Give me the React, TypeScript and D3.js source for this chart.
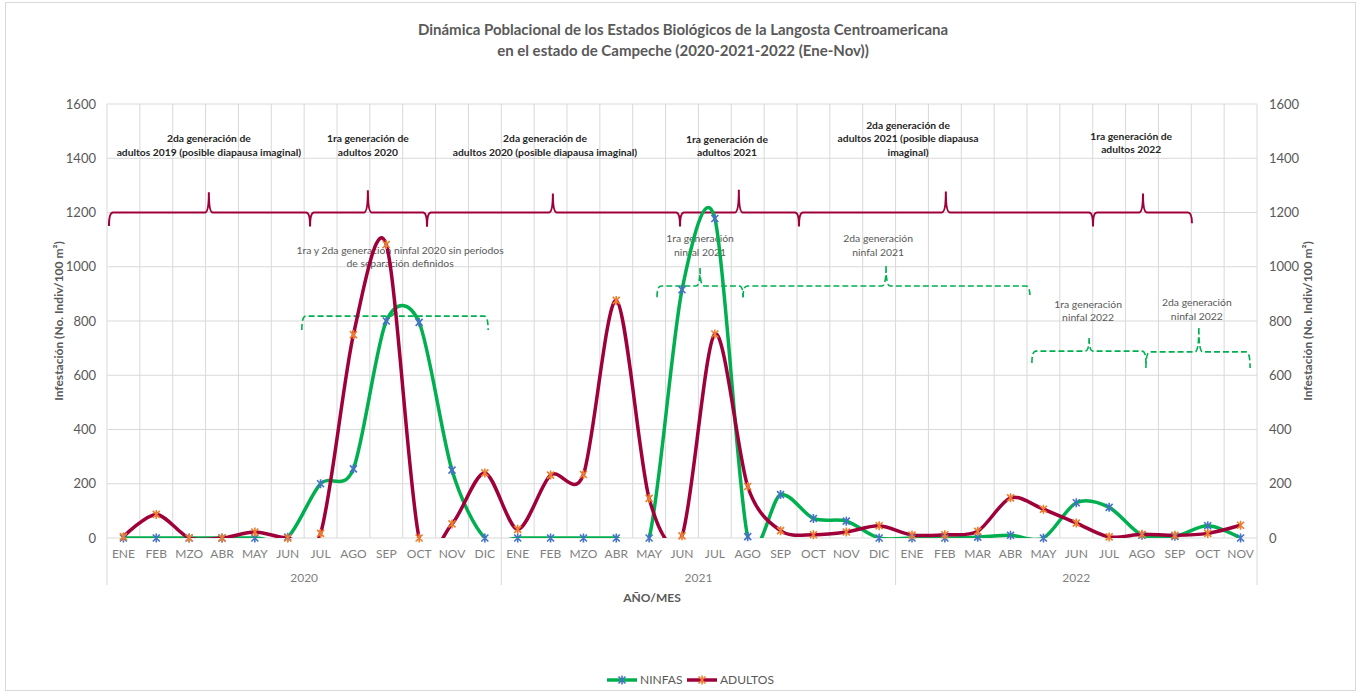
import React from 'react';
import * as d3 from 'd3';

// ---- Data (Jan 2020 - Nov 2022)
const years = ['2020', '2021', '2022'];
const months2020 = ['ENE', 'FEB', 'MZO', 'ABR', 'MAY', 'JUN', 'JUL', 'AGO', 'SEP', 'OCT', 'NOV', 'DIC'];
const months2021 = ['ENE', 'FEB', 'MZO', 'ABR', 'MAY', 'JUN', 'JUL', 'AGO', 'SEP', 'OCT', 'NOV', 'DIC'];
const months2022 = ['ENE', 'FEB', 'MAR', 'ABR', 'MAY', 'JUN', 'JUL', 'AGO', 'SEP', 'OCT', 'NOV'];

const ninfas = [
    0, 0, 0, 0, 0, 3, 200, 255, 800, 795, 250, 0,
    0, 0, 0, 0, 0, 915, 1178, 5, 160, 72, 62, 0,
    0, 0, 3, 10, 0, 130, 113, 10, 6, 45, 0
];
const adultos = [
    5, 87, 0, 0, 22, 0, 17, 750, 1082, 0, 52, 240,
    32, 232, 234, 876, 146, 8, 752, 190, 27, 12, 22, 45,
    11, 12, 25, 148, 106, 55, 4, 14, 10, 17, 47
];

const yTicks = [0, 200, 400, 600, 800, 1000, 1200, 1400, 1600];

// brace annotations: category positions (from, tip, to) and values (line, ends, tip)
const adultBraces = [
    { from: 0.06, tip: 3.1, to: 6.18, value: 1200, end: 1150, top: 1275 },
    { from: 6.18, tip: 7.94, to: 9.74, value: 1200, end: 1148, top: 1282 },
    { from: 9.74, tip: 13.57, to: 17.44, value: 1200, end: 1148, top: 1270 },
    { from: 17.44, tip: 19.23, to: 21.06, value: 1200, end: 1150, top: 1284 },
    { from: 21.06, tip: 25.53, to: 30.01, value: 1200, end: 1148, top: 1277 },
    { from: 30.01, tip: 31.53, to: 33.02, value: 1200, end: 1160, top: 1270 }
];
const ninfaBraces = [
    { from: 5.93, tip: 8.77, to: 11.6, value: 818, end: 767, top: 881 },
    { from: 16.74, tip: 18.05, to: 19.36, value: 929, end: 888, top: 995 },
    { from: 19.36, tip: 23.71, to: 28.09, value: 929, end: 888, top: 1003 },
    { from: 28.15, tip: 29.89, to: 31.62, value: 689, end: 645, top: 737 },
    { from: 31.62, tip: 33.23, to: 34.79, value: 686, end: 627, top: 774 }
];

const adultLabels = [
    { at: 3.1, value: 1410, lines: ['2da generación de', 'adultos 2019 (posible diapausa imaginal)'] },
    { at: 7.94, value: 1410, lines: ['1ra generación de', 'adultos 2020'] },
    { at: 13.33, value: 1410, lines: ['2da generación de', 'adultos 2020 (posible diapausa imaginal)'] },
    { at: 18.87, value: 1408, lines: ['1ra generación de', 'adultos 2021'] },
    { at: 24.38, value: 1410, lines: ['2da generación de', 'adultos 2021 (posible diapausa', 'imaginal)'] },
    { at: 31.17, value: 1418, lines: ['1ra generación de', 'adultos 2022'] }
];
const ninfaLabels = [
    { at: 8.92, value: 999, lines: ['1ra y 2da generación ninfal 2020 sin períodos', 'de separación definidos'] },
    { at: 18.05, value: 1040, lines: ['1ra generación', 'ninfal 2021'] },
    { at: 23.47, value: 1040, lines: ['2da generación', 'ninfal 2021'] },
    { at: 29.86, value: 800, lines: ['1ra generación', 'ninfal 2022'] },
    { at: 33.17, value: 804, lines: ['2da generación', 'ninfal 2022'] }
];

const FONT = 'Lato, "Liberation Sans", sans-serif';
const GREEN = '#00B050';
const RED = '#A0003A';
const BLUE = '#4472C4';
const ORANGE = '#ED7D31';
const GRID = '#d9d9d9';
const TXT = '#595959';

const W = 1361;
const H = 692;
const plot = { left: 107, right: 1257, top: 104, bottom: 538 };

const star = 'M-3.5,-3.5L3.5,3.5M-3.5,3.5L3.5,-3.5M0,-4.5L0,4.5';

export default function App() {
    const categories = [
        ...months2020.map(m => ({ m, y: '2020' })),
        ...months2021.map(m => ({ m, y: '2021' })),
        ...months2022.map(m => ({ m, y: '2022' }))
    ];
    const n = categories.length;

    const xc = d3.scaleLinear().domain([0, n]).range([plot.left, plot.right]);
    const y = d3.scaleLinear().domain([0, 1600]).range([plot.bottom, plot.top]);
    const cx = (i: number) => xc(i + 0.5);

    const line = d3.line<number>()
        .x((_, i) => cx(i))
        .y(d => y(d))
        .curve(d3.curveCardinal.tension(0.12));

    // year groups
    const groups: { year: string; start: number; end: number }[] = [];
    years.forEach(yr => {
        const idx = categories.map((c, i) => (c.y === yr ? i : -1)).filter(i => i >= 0);
        groups.push({ year: yr, start: idx[0], end: idx[idx.length - 1] + 1 });
    });

    const bracePath = (b: any, r: number) => {
        const x1 = xc(b.from), x2 = xc(b.to), xt = xc(b.tip);
        const y0 = y(b.value), ye = y(b.end), yt = y(b.top);
        return `M${x1},${ye} Q${x1},${y0} ${x1 + r},${y0} L${xt - r},${y0} Q${xt},${y0} ${xt},${yt}` +
            ` M${xt},${yt} Q${xt},${y0} ${xt + r},${y0} L${x2 - r},${y0} Q${x2},${y0} ${x2},${ye}`;
    };

    return (
        <div style={{ position: 'absolute', left: 0, top: 0 }}>
            <svg width={W} height={H} style={{ display: 'block', background: '#fff' }} fontFamily={FONT}>
                <defs>
                    <clipPath id="plotClip">
                        <rect x={plot.left} y={plot.top} width={plot.right - plot.left} height={plot.bottom - plot.top} />
                    </clipPath>
                </defs>
                <rect x={5.5} y={2.5} width={W - 11} height={H - 4} fill="none" stroke={GRID} />

                {/* Title */}
                <text x={683} y={35} textAnchor="middle" fontSize={15} fontWeight={700} fill={TXT}>
                    Dinámica Poblacional de los Estados Biológicos de la Langosta Centroamericana
                </text>
                <text x={683} y={56} textAnchor="middle" fontSize={15} fontWeight={700} fill={TXT}>
                    en el estado de Campeche (2020-2021-2022 (Ene-Nov))
                </text>

                {/* Grid */}
                {yTicks.map(t => (
                    <line key={'h' + t} x1={plot.left} x2={plot.right} y1={y(t)} y2={y(t)} stroke={GRID} />
                ))}
                {d3.range(n + 1).map(i => (
                    <line key={'v' + i} x1={xc(i)} x2={xc(i)} y1={plot.top} y2={plot.bottom} stroke={GRID} />
                ))}
                {[0, ...groups.map(g => g.end)].map(i => (
                    <line key={'s' + i} x1={xc(i)} x2={xc(i)} y1={plot.bottom} y2={585} stroke={GRID} />
                ))}

                {/* Y axes */}
                {yTicks.map(t => (
                    <g key={'yl' + t} fontSize={13} fill={TXT}>
                        <text x={96} y={y(t)} dy="0.35em" textAnchor="end">{t}</text>
                        <text x={1269} y={y(t)} dy="0.35em" textAnchor="start">{t}</text>
                    </g>
                ))}
                <text transform={`translate(63,${(plot.top + plot.bottom) / 2}) rotate(-90)`} textAnchor="middle"
                    fontSize={12} fontWeight={700} fill={TXT}>
                    Infestación (No. Indiv/100 m²)
                </text>
                <text transform={`translate(1312,${(plot.top + plot.bottom) / 2}) rotate(-90)`} textAnchor="middle"
                    fontSize={12} fontWeight={700} fill={TXT}>
                    Infestación (No. Indiv/100 m²)
                </text>

                {/* X axis labels */}
                {categories.map((c, i) => (
                    <text key={'m' + i} x={cx(i)} y={558} textAnchor="middle" fontSize={12} fill="#7f7f7f">{c.m}</text>
                ))}
                {groups.map(g => (
                    <text key={g.year} x={xc((g.start + g.end) / 2)} y={582} textAnchor="middle" fontSize={12} fill="#7f7f7f">{g.year}</text>
                ))}
                <text x={652} y={602} textAnchor="middle" fontSize={12} fontWeight={700} fill={TXT}>AÑO/MES</text>

                {/* Annotations: adults */}
                {adultBraces.map((b, i) => (
                    <path key={'ab' + i} d={bracePath(b, 4)} fill="none" stroke={RED} strokeWidth={2} />
                ))}
                {adultLabels.map((l, i) => (
                    <text key={'al' + i} x={xc(l.at)} y={y(l.value)} textAnchor="middle" fontSize={10.3} fontWeight={700} fill="#262626">
                        {l.lines.map((s, j) => (
                            <tspan key={j} x={xc(l.at)} dy={j === 0 ? -(l.lines.length - 1) * 13.5 : 13.5}>{s}</tspan>
                        ))}
                    </text>
                ))}

                {/* Annotations: nymphs */}
                {ninfaBraces.map((b, i) => (
                    <path key={'nb' + i} d={bracePath(b, 4)} fill="none" stroke={GREEN} strokeWidth={1.6} strokeDasharray="6,3" />
                ))}
                {ninfaLabels.map((l, i) => (
                    <text key={'nl' + i} x={xc(l.at)} y={y(l.value)} textAnchor="middle" fontSize={10.4} fill={TXT}>
                        {l.lines.map((s, j) => (
                            <tspan key={j} x={xc(l.at)} dy={j === 0 ? -(l.lines.length - 1) * 13.5 : 13.5}>{s}</tspan>
                        ))}
                    </text>
                ))}

                {/* Series */}
                <g clipPath="url(#plotClip)">
                    <path d={line(ninfas) || ''} fill="none" stroke={GREEN} strokeWidth={3.5} />
                    <path d={line(adultos) || ''} fill="none" stroke={RED} strokeWidth={3.5} />
                </g>
                {ninfas.map((v, i) => (
                    <path key={'nm' + i} d={star} transform={`translate(${cx(i)},${y(v)})`} stroke={BLUE} strokeWidth={1.6} fill="none" />
                ))}
                {adultos.map((v, i) => (
                    <path key={'am' + i} d={star} transform={`translate(${cx(i)},${y(v)})`} stroke={ORANGE} strokeWidth={1.6} fill="none" />
                ))}

                {/* Legend */}
                <g fontSize={12} fill={TXT}>
                    <line x1={607} x2={637} y1={680} y2={680} stroke={GREEN} strokeWidth={3.5} />
                    <path d={star} transform="translate(622,680)" stroke={BLUE} strokeWidth={1.6} fill="none" />
                    <text x={640} y={680} dy="0.35em">NINFAS</text>
                    <line x1={687} x2={717} y1={680} y2={680} stroke={RED} strokeWidth={3.5} />
                    <path d={star} transform="translate(702,680)" stroke={ORANGE} strokeWidth={1.6} fill="none" />
                    <text x={720} y={680} dy="0.35em">ADULTOS</text>
                </g>
            </svg>
        </div>
    );
}
